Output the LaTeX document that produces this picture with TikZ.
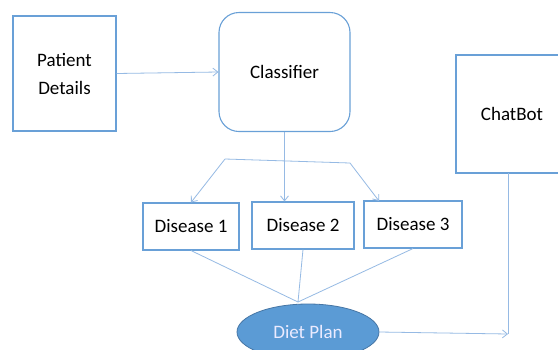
\documentclass[tikz,border=0pt]{standalone}
\usepackage{fontspec}
\setmainfont{Carlito}
\usetikzlibrary{arrows.meta,shapes.geometric}
\definecolor{boxc}{RGB}{105,160,215}
\definecolor{linec}{RGB}{150,186,228}
\definecolor{dietfill}{RGB}{91,155,213}
\definecolor{dietdraw}{RGB}{70,118,165}
\tikzset{
  box/.style={draw=boxc, line width=1.1pt, font=\fontsize{19}{28}\selectfont, align=center, inner sep=0pt},
  conn/.style={draw=linec, line width=0.8pt},
  arr/.style={conn, -{Straight Barb[length=5pt,width=8pt]}},
}
\begin{document}
\begin{tikzpicture}[x=1pt,y=-1pt]
\useasboundingbox (0,0) rectangle (558,349);
\clip (0,0) rectangle (558,349);
\fill[white] (0,0) rectangle (558,349);
\node[box, minimum width=103pt, minimum height=115pt] (pat) at (64.5,73.5) {Patient\\Details};
\node[box, rounded corners=20pt, minimum width=131pt, minimum height=119pt] (cls) at (284.5,72) {Classifier};
\node[box, minimum width=96pt, minimum height=47pt] (d1) at (191,226.5) {Disease 1};
\node[box, minimum width=102pt, minimum height=47pt] (d2) at (303,225.5) {Disease 2};
\node[box, minimum width=98pt, minimum height=47pt] (d3) at (413,224.5) {Disease 3};
\node[box, minimum width=112pt, minimum height=118pt] (cb) at (512,114) {ChatBot};
\node[ellipse, fill=dietfill, draw=dietdraw, line width=0.8pt, minimum width=142pt, minimum height=56pt, inner sep=0pt, text=white!92!blue, font=\fontsize{19}{23}\selectfont] (diet) at (308,332) {Diet Plan};
\coordinate (hl) at (225,159);
\coordinate (hr) at (350,163);
\coordinate (d3in) at (379,201);
\coordinate (dp) at (298,302);
\coordinate (cbtop) at (508,173);
\coordinate (cbend) at (508,334);
\draw[arr] (pat.east) -- (cls.west);
\draw[arr] (cls.south) -- (cls.south |- d2.north);
\draw[conn] (hl) -- (hr);
\draw[arr] (hl) -- (d1.north);
\draw[arr] (hr) -- (d3in);
\draw[conn] (d1.south) -- (dp);
\draw[conn] (d2.south) -- (dp);
\draw[conn] (d3.south) -- (dp);
\draw[conn] (cbtop) -- (cbend);
\draw[arr] (diet.east) -- (cbend);
\end{tikzpicture}
\end{document}
